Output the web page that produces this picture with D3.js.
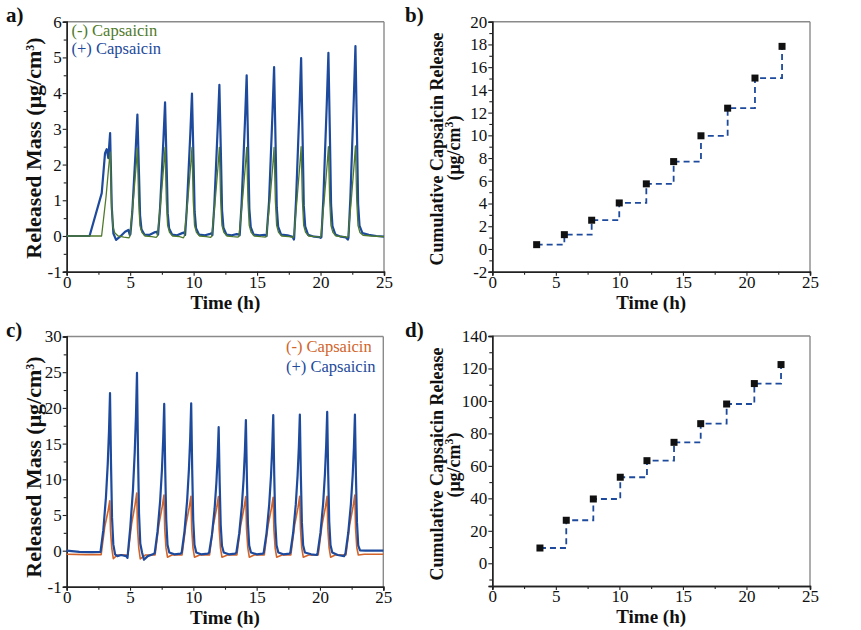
<!DOCTYPE html>
<html><head><meta charset="utf-8">
<script src="https://cdn.jsdelivr.net/npm/d3@7"></script>
<style>
body{margin:0;background:#fff}
text{font-family:"Liberation Serif","Times New Roman",serif;fill:#111}
</style>
</head><body>
<svg id="fig" width="861" height="630"></svg>
<script>
// ---------------- DATA ----------------
const xTicks = [0, 5, 10, 15, 20, 25];
const xMinor = [2.5, 7.5, 12.5, 17.5, 22.5];
const yTicksA = [-1, 0, 1, 2, 3, 4, 5, 6];
const yTicksB = [-2, 0, 2, 4, 6, 8, 10, 12, 14, 16, 18, 20];
const yTicksC = [-1, 0, 5, 10, 15, 20, 25, 30];
const yTicksD = [0, 20, 40, 60, 80, 100, 120, 140];
const legendLabels = ["(-) Capsaicin", "(+) Capsaicin"];

// panel a, (+) Capsaicin  [time h, released mass µg/cm3]
const aPlus = [
 [0,0.0],[1.0,0.0],[1.8,0.0],[2.76,1.2],[3.02,2.32],[3.15,2.43],[3.28,2.18],[3.42,2.88],[3.55,0.82],[3.68,0.07],[3.89,-0.11],[4.2,-0.02],[4.6,0.12],[4.86,0.17],[4.97,0.03],
 [5.02,0.05],[5.17,0.68],[5.31,1.60],[5.44,2.45],[5.57,3.40],[5.70,1.70],[5.78,0.58],[5.89,0.19],[6.12,0.04],[6.5,0.03],[6.9,0.10],[7.1,0.12],[7.18,0.04],
 [7.2,0.04],[7.35,0.75],[7.49,1.76],[7.62,2.69],[7.75,3.74],[7.88,1.87],[7.96,0.64],[8.07,0.21],[8.3,0.04],[8.7,0.02],[9.1,0.08],[9.28,0.10],[9.33,0.03],
 [9.47,0.80],[9.61,1.88],[9.74,2.87],[9.87,3.99],[10.0,2.0],[10.08,0.68],[10.19,0.22],[10.42,0.04],[10.9,0.02],[11.3,0.06],[11.42,0.08],[11.48,0.02],
 [11.63,0.85],[11.77,1.99],[11.9,3.05],[12.03,4.23],[12.16,2.12],[12.24,0.72],[12.35,0.23],[12.58,0.04],[13.0,0.02],[13.4,0.05],[13.6,0.04],
 [13.63,0.02],[13.78,0.90],[13.92,2.12],[14.05,3.24],[14.18,4.50],[14.31,2.25],[14.39,0.77],[14.5,0.25],[14.73,0.04],[15.2,0.02],[15.6,0.03],[15.75,0.0],
 [15.94,0.95],[16.08,2.22],[16.21,3.41],[16.34,4.73],[16.47,2.37],[16.55,0.80],[16.66,0.26],[16.89,0.04],[17.4,0.02],[17.8,-0.02],[17.9,-0.10],
 [17.92,-0.06],[18.07,1.0],[18.21,2.34],[18.34,3.59],[18.47,4.98],[18.6,2.49],[18.68,0.85],[18.79,0.27],[19.02,0.03],[19.5,-0.02],[19.9,-0.03],[20.0,-0.05],
 [20.07,-0.03],[20.22,1.03],[20.36,2.41],[20.49,3.69],[20.62,5.13],[20.75,2.57],[20.83,0.87],[20.94,0.28],[21.17,0.04],[21.6,-0.02],[22.0,-0.04],[22.15,-0.10],
 [22.2,-0.05],[22.35,1.06],[22.49,2.50],[22.62,3.83],[22.75,5.32],[22.88,2.66],[22.96,0.90],[23.07,0.29],[23.3,0.08],[23.8,0.03],[24.4,0.0],[25,-0.02]
];
// panel a, (-) Capsaicin
const aMinus = [
 [0,0.0],[2.75,0.0],[3.1,1.1],[3.3,1.9],[3.43,2.35],[3.53,0.94],[3.63,0.28],[3.78,0.09],[4.05,0.0],[4.5,-0.03],[4.9,-0.05],[4.97,-0.02],
 [5.27,1.1],[5.47,1.96],[5.57,2.45],[5.67,0.98],[5.77,0.29],[5.92,0.10],[6.17,0.0],[6.7,-0.02],[7.05,-0.04],[7.15,0.0],
 [7.45,1.12],[7.65,1.98],[7.75,2.48],[7.85,0.99],[7.95,0.30],[8.1,0.10],[8.35,0.0],[8.9,-0.02],[9.2,-0.05],[9.27,0.0],
 [9.57,1.12],[9.77,1.98],[9.87,2.48],[9.97,0.99],[10.07,0.30],[10.22,0.10],[10.47,0.0],[11.0,-0.02],[11.35,-0.04],[11.43,0.0],
 [11.73,1.12],[11.93,1.98],[12.03,2.48],[12.13,0.99],[12.23,0.30],[12.38,0.10],[12.63,0.0],[13.1,-0.02],[13.5,-0.03],[13.58,0.0],
 [13.88,1.12],[14.08,1.98],[14.18,2.48],[14.28,0.99],[14.38,0.30],[14.53,0.10],[14.78,0.0],[15.3,-0.02],[15.65,-0.03],[15.74,0.0],
 [16.04,1.12],[16.24,1.98],[16.34,2.48],[16.44,0.99],[16.54,0.30],[16.69,0.10],[16.94,0.0],[17.5,-0.02],[17.85,-0.04],[17.9,0.0],
 [18.17,1.13],[18.37,2.0],[18.47,2.50],[18.57,1.0],[18.67,0.30],[18.82,0.10],[19.07,0.0],[19.6,-0.02],[19.98,-0.03],[20.03,0.0],
 [20.32,1.13],[20.52,2.0],[20.62,2.50],[20.72,1.0],[20.82,0.30],[20.97,0.10],[21.22,0.0],[21.8,-0.02],[22.12,-0.04],[22.18,0.0],
 [22.45,1.13],[22.65,2.02],[22.75,2.52],[22.85,1.0],[22.95,0.30],[23.1,0.10],[23.35,0.02],[24,0.0],[25,-0.02]
];

// panel b, cumulative release
const bTime = [3.49, 5.67, 7.82, 9.99, 12.12, 14.27, 16.42, 18.52, 20.67, 22.80];
const bCum  = [0.38, 1.26, 2.53, 4.05, 5.73, 7.69, 9.96, 12.39, 15.04, 17.83];

// panel c, (+) Capsaicin
const cPlus = [
 [0,0.0],[1,-0.03],[2,-0.04],[2.67,-0.03],[2.89,2.87],[3.10,7.50],[3.24,12.13],[3.34,16.77],[3.42,22.06],[3.50,12.13],[3.58,4.63],[3.68,0.88],[3.82,-0.10],[4.0,-0.15],[4.3,-0.12],[4.7,-0.15],[4.8,-0.20],
 [5.02,3.24],[5.23,8.47],[5.37,13.70],[5.47,18.92],[5.55,24.9],[5.63,13.70],[5.71,5.23],[5.81,1.0],[5.95,-0.05],[6.1,-0.25],[6.4,-0.15],[6.8,-0.10],[6.95,-0.07],
 [7.17,2.67],[7.38,6.99],[7.52,11.31],[7.62,15.63],[7.70,20.56],[7.78,11.31],[7.86,4.32],[7.96,0.82],[8.1,-0.05],[8.5,-0.10],[9.0,-0.08],[9.08,-0.05],
 [9.30,2.68],[9.51,7.02],[9.65,11.36],[9.75,15.69],[9.83,20.65],[9.91,11.36],[9.99,4.34],[10.09,0.83],[10.23,-0.05],[10.6,-0.10],[11.15,-0.08],[11.25,-0.05],
 [11.47,2.25],[11.68,5.88],[11.82,9.52],[11.92,13.15],[12.0,17.3],[12.08,9.52],[12.16,3.63],[12.26,0.69],[12.4,-0.05],[12.8,-0.10],[13.3,-0.08],[13.4,-0.05],
 [13.62,2.38],[13.83,6.22],[13.97,10.07],[14.07,13.91],[14.15,18.3],[14.23,10.07],[14.31,3.84],[14.41,0.73],[14.55,-0.05],[15.0,-0.10],[15.5,-0.08],[15.56,-0.05],
 [15.78,2.47],[15.99,6.46],[16.13,10.45],[16.23,14.44],[16.31,19.0],[16.39,10.45],[16.47,3.99],[16.57,0.76],[16.71,-0.05],[17.1,-0.10],[17.6,-0.08],[17.66,-0.05],
 [17.88,2.48],[18.09,6.48],[18.23,10.49],[18.33,14.49],[18.41,19.07],[18.49,10.49],[18.57,4.0],[18.67,0.76],[18.81,-0.05],[19.3,-0.10],[19.75,-0.12],[19.82,-0.05],
 [20.04,2.53],[20.25,6.61],[20.39,10.69],[20.49,14.77],[20.57,19.44],[20.65,10.69],[20.73,4.08],[20.83,0.78],[20.97,-0.05],[21.4,-0.12],[21.9,-0.15],[22.01,-0.08],
 [22.23,2.48],[22.44,6.48],[22.58,10.49],[22.68,14.49],[22.76,19.07],[22.84,10.49],[22.92,4.0],[23.02,0.76],[23.16,0.05],[23.6,0.0],[24.3,0.02],[25,0.0]
];
// panel c, (-) Capsaicin
const cMinus = [
 [0,-0.10],[1.5,-0.11],[2.72,-0.11],[3.0,3.29],[3.27,5.6],[3.40,7.0],[3.46,2.8],[3.56,0.35],[3.68,-0.22],[4.0,-0.12],[4.83,-0.12],
 [5.13,3.8],[5.40,6.46],[5.53,8.08],[5.59,3.23],[5.69,0.40],[5.81,-0.23],[6.2,-0.12],[6.98,-0.12],
 [7.28,3.67],[7.55,6.24],[7.68,7.8],[7.74,3.12],[7.84,0.39],[7.96,-0.18],[8.3,-0.12],[9.11,-0.12],
 [9.41,3.58],[9.68,6.1],[9.81,7.62],[9.87,3.05],[9.97,0.38],[10.09,-0.18],[10.5,-0.12],[11.28,-0.12],
 [11.58,3.56],[11.85,6.06],[11.98,7.57],[12.04,3.03],[12.14,0.38],[12.26,-0.18],[12.7,-0.12],[13.44,-0.12],
 [13.74,3.56],[14.01,6.06],[14.14,7.57],[14.2,3.03],[14.3,0.38],[14.42,-0.18],[14.8,-0.12],[15.6,-0.12],
 [15.9,3.52],[16.17,5.98],[16.30,7.48],[16.36,2.99],[16.46,0.37],[16.58,-0.18],[17.0,-0.12],[17.7,-0.12],
 [18.0,3.58],[18.27,6.1],[18.40,7.62],[18.46,3.05],[18.56,0.38],[18.68,-0.18],[19.1,-0.12],[19.86,-0.12],
 [20.16,3.58],[20.43,6.1],[20.56,7.62],[20.62,3.05],[20.72,0.38],[20.84,-0.18],[21.2,-0.12],[22.05,-0.12],
 [22.35,3.67],[22.62,6.24],[22.75,7.8],[22.81,3.12],[22.91,0.39],[23.03,-0.12],[23.5,-0.10],[25,-0.10]
];

// panel d, cumulative release
const dTime = [3.75, 5.82, 7.95, 10.07, 12.17, 14.30, 16.40, 18.44, 20.62, 22.72];
const dCum  = [9.4, 26.5, 39.6, 53.0, 63.2, 74.5, 86.0, 98.1, 110.7, 122.4];

// ---------------- DRAWING ----------------
const svg = d3.select("#fig");
const BLUE = "#1d4a9c", GREEN = "#4f7a2c", ORANGE = "#d2642a";
const SERIF = "Liberation Serif, Times New Roman, serif";

function panel(box, yDomain, yRange, yTicks, yMinor) {
  const x = d3.scaleLinear().domain([0, 25]).range([box.l, box.r]);
  const y = d3.scaleLinear().domain(yDomain).range(yRange);
  const g = svg.append("g");
  g.append("line").attr("x1", box.l).attr("x2", box.r).attr("y1", box.t).attr("y2", box.t).attr("stroke", "#8a8a8a").attr("stroke-width", 1.4);
  g.append("line").attr("x1", box.r).attr("x2", box.r).attr("y1", box.t).attr("y2", box.b).attr("stroke", "#8a8a8a").attr("stroke-width", 1.4);
  g.append("g").attr("transform", `translate(0,${box.b})`)
    .call(d3.axisBottom(x).tickValues(xTicks).tickSize(4).tickPadding(0).tickFormat(d => String(d)));
  g.append("g").attr("transform", `translate(0,${box.b})`)
    .call(d3.axisBottom(x).tickValues(xMinor).tickSize(3).tickFormat(""));
  g.append("g").attr("transform", `translate(${box.l},0)`)
    .call(d3.axisLeft(y).tickValues(yTicks).tickSize(4).tickPadding(1).tickFormat(d => String(d)));
  g.append("g").attr("transform", `translate(${box.l},0)`)
    .call(d3.axisLeft(y).tickValues(yMinor).tickSize(3).tickFormat(""));
  g.selectAll("g").attr("font-family", SERIF).attr("font-size", 17);
  g.selectAll(".domain").attr("stroke", "#222").attr("stroke-width", 1.4);
  g.selectAll(".tick line").attr("stroke", "#222").attr("stroke-width", 1.1);
  g.selectAll(".tick text").attr("fill", "#111").attr("font-family", SERIF).style("font-family", SERIF).style("font-size", "17px");
  return {x, y, g};
}

function xTitle(box, yPos) {
  svg.append("text").attr("x", (box.l + box.r) / 2).attr("y", yPos)
    .attr("text-anchor", "middle").style("font-weight", "bold").style("font-size", "19px").text("Time (h)");
}
function unitTspans(sel) {
  sel.append("tspan").text("(μg/cm");
  sel.append("tspan").attr("dy", -7).style("font-size", "12px").text("3");
  sel.append("tspan").attr("dy", 7).text(")");
}
function letter(x, y, s) {
  svg.append("text").attr("x", x).attr("y", y).style("font-weight", "bold").style("font-size", "21px").text(s);
}

const line = (p) => d3.line().x(d => p.x(d[0])).y(d => p.y(d[1]));

// ---- panel a
const A = {l: 66.7, r: 384, t: 21.7, b: 271.7};
const pa = panel(A, [-1, 6], [A.b, A.t], yTicksA, [-0.5, 0.5, 1.5, 2.5, 3.5, 4.5, 5.5]);
pa.g.append("path").datum(aPlus).attr("d", line(pa)).attr("fill", "none").attr("stroke", BLUE).attr("stroke-width", 2.2).attr("stroke-linejoin", "round");
pa.g.append("path").datum(aMinus).attr("d", line(pa)).attr("fill", "none").attr("stroke", GREEN).attr("stroke-width", 1.3).attr("stroke-linejoin", "round");
svg.append("text").attr("x", 71.5).attr("y", 36).style("font-size", "16.5px").style("fill", GREEN).text(legendLabels[0]);
svg.append("text").attr("x", 71.5).attr("y", 54).style("font-size", "16.5px").style("fill", BLUE).text(legendLabels[1]);
xTitle(A, 308.5);
{
  const t = svg.append("text").attr("transform", `translate(41,148) rotate(-90)`).attr("text-anchor", "middle")
    .style("font-weight", "bold").style("font-size", "22px");
  t.append("tspan").text("Released Mass ");
  unitTspans(t);
}
letter(6, 22, "a)");

// ---- panel b
const B = {l: 492.3, r: 810, t: 21.7, b: 271.7};
const pb = panel(B, [-2, 20], [B.b, B.t], yTicksB, [-1, 1, 3, 5, 7, 9, 11, 13, 15, 17, 19]);
const bPts = bTime.map((t, i) => [t, bCum[i]]);
pb.g.append("path").datum(bPts).attr("d", line(pb).curve(d3.curveStepAfter)).attr("fill", "none")
  .attr("stroke", BLUE).attr("stroke-width", 1.8).attr("stroke-dasharray", "6,4");
pb.g.selectAll("rect.m").data(bPts).join("rect").attr("class", "m")
  .attr("x", d => pb.x(d[0]) - 3.5).attr("y", d => pb.y(d[1]) - 3.5).attr("width", 7).attr("height", 7).attr("fill", "#111");
xTitle(B, 308.5);
svg.append("text").attr("transform", `translate(443,149) rotate(-90)`).attr("text-anchor", "middle")
  .style("font-weight", "bold").style("font-size", "18px").text("Cumulative Capsaicin Release");
{
  const t = svg.append("text").attr("transform", `translate(460,148) rotate(-90)`).attr("text-anchor", "middle")
    .style("font-weight", "bold").style("font-size", "18px");
  unitTspans(t);
}
letter(405, 22, "b)");

// ---- panel c
const C = {l: 66.7, r: 383.3, t: 336.5, b: 586.7};
const pc = panel(C, [-1, 0, 30], [C.b, 550.7, C.t], yTicksC, [2.5, 7.5, 12.5, 17.5, 22.5, 27.5]);
pc.g.append("path").datum(cMinus).attr("d", line(pc)).attr("fill", "none").attr("stroke", ORANGE).attr("stroke-width", 1.6).attr("stroke-linejoin", "round");
pc.g.append("path").datum(cPlus).attr("d", line(pc)).attr("fill", "none").attr("stroke", BLUE).attr("stroke-width", 2.2).attr("stroke-linejoin", "round");
svg.append("text").attr("x", 286).attr("y", 352).style("font-size", "16.5px").style("fill", ORANGE).text(legendLabels[0]);
svg.append("text").attr("x", 286).attr("y", 372).style("font-size", "16.5px").style("fill", BLUE).text(legendLabels[1]);
xTitle(C, 623.5);
{
  const t = svg.append("text").attr("transform", `translate(41,467) rotate(-90)`).attr("text-anchor", "middle")
    .style("font-weight", "bold").style("font-size", "22px");
  t.append("tspan").text("Released Mass ");
  unitTspans(t);
}
letter(6, 337, "c)");

// ---- panel d
const D = {l: 492.3, r: 810, t: 336, b: 586};
const pd = panel(D, [-14, 140], [D.b, D.t], yTicksD, [-10, 10, 30, 50, 70, 90, 110, 130]);
const dPts = dTime.map((t, i) => [t, dCum[i]]);
pd.g.append("path").datum(dPts).attr("d", line(pd).curve(d3.curveStepAfter)).attr("fill", "none")
  .attr("stroke", BLUE).attr("stroke-width", 1.8).attr("stroke-dasharray", "6,4");
pd.g.selectAll("rect.m").data(dPts).join("rect").attr("class", "m")
  .attr("x", d => pd.x(d[0]) - 3.5).attr("y", d => pd.y(d[1]) - 3.5).attr("width", 7).attr("height", 7).attr("fill", "#111");
xTitle(D, 623);
svg.append("text").attr("transform", `translate(443,464) rotate(-90)`).attr("text-anchor", "middle")
  .style("font-weight", "bold").style("font-size", "18px").text("Cumulative Capsaicin Release");
{
  const t = svg.append("text").attr("transform", `translate(460,465) rotate(-90)`).attr("text-anchor", "middle")
    .style("font-weight", "bold").style("font-size", "18px");
  unitTspans(t);
}
letter(405, 337, "d)");
</script>
</body></html>
